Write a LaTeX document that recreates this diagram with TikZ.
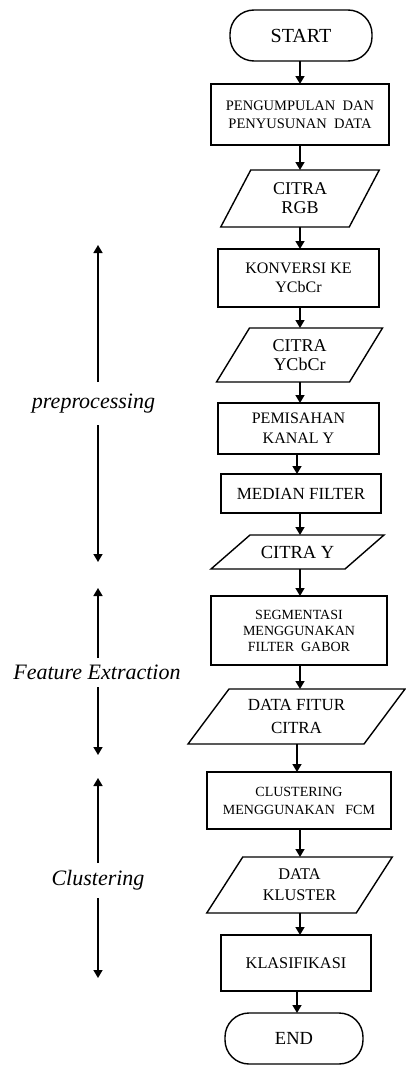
\documentclass[tikz,border=0pt]{standalone}
\usepackage{fontspec}
\setmainfont{Liberation Serif}
\usetikzlibrary{arrows.meta}
\newcommand\fs[2]{\fontsize{#1}{#2}\selectfont}
\newcommand\iobox[8]{% name, x, y, w, h, halfskew, font, text
  \node[iotext, font=#7, minimum width=#4pt, minimum height=#5pt] (#1) at (#2,#3) {#8};
  \draw[parashape] ([xshift=#6pt]#1.north west) -- ([xshift=#6pt]#1.north east)
    -- ([xshift=-#6pt]#1.south east) -- ([xshift=-#6pt]#1.south west) -- cycle;
}
\begin{document}
\begin{tikzpicture}[x=1pt,y=-1pt,
  procbox/.style={draw, line width=1.5pt, rectangle, inner sep=1pt, outer sep=0pt, align=center},
  termbox/.style={draw, line width=1.4pt, rectangle, rounded corners=24pt, inner sep=1pt, outer sep=0pt, font=\fs{20}{22}},
  iotext/.style={rectangle, inner sep=1pt, outer sep=0pt, align=center},
  parashape/.style={line width=1.4pt, line join=miter},
  flowarrow/.style={line width=1.5pt, -{Triangle[length=8pt,width=9pt]}},
  phase/.style={font=\fs{22}{24}\itshape, inner sep=0pt, outer sep=0pt},
]
\useasboundingbox (0,0) rectangle (405,1065);

% main column
\node[termbox, minimum width=142pt, minimum height=51pt] (start) at (301,35.5) {START};
\node[procbox, font=\fs{14.5}{18}, minimum width=178pt, minimum height=61pt] (collect) at (300,114.5)
  {PENGUMPULAN\ \ DAN\\PENYUSUNAN\ \ DATA};
\iobox{rgb}{300}{198.5}{128.5}{57}{15}{\fs{18}{19}}{CITRA\\RGB}
\node[procbox, font=\fs{16}{19}, minimum width=161pt, minimum height=58pt] (konv) at (298.5,278)
  {KONVERSI KE\\YCbCr};
\iobox{ycbcr}{299.5}{355}{133}{54}{16.5}{\fs{18}{19}}{CITRA\\YCbCr}
\node[procbox, font=\fs{16}{20}, minimum width=161pt, minimum height=51pt] (pemisah) at (298.5,428.5)
  {PEMISAHAN\\KANAL Y};
\node[procbox, font=\fs{17}{18}, minimum width=160pt, minimum height=39pt] (median) at (301,493.5)
  {MEDIAN FILTER};
\iobox{citray}{297.5}{552}{134}{34}{19.5}{\fs{18.5}{19}}{CITRA Y}
\node[procbox, font=\fs{14}{16}, minimum width=176pt, minimum height=69pt] (segm) at (299,630.5)
  {SEGMENTASI\\MENGGUNAKAN\\FILTER\ \ GABOR};
\iobox{fitur}{296.5}{716.5}{176}{55}{20.5}{\fs{17}{23}}{DATA FITUR\\CITRA}
\node[procbox, font=\fs{14}{18}, minimum width=184pt, minimum height=57pt] (clust) at (299,800.5)
  {CLUSTERING\\MENGGUNAKAN\ \ \ FCM};
\iobox{kluster}{299.5}{885}{149.5}{56}{18}{\fs{16.3}{21}}{DATA\\KLUSTER}
\node[procbox, font=\fs{16.3}{18}, minimum width=150pt, minimum height=56pt] (klas) at (296,963)
  {KLASIFIKASI};
\node[termbox, font=\fs{18.5}{20}, minimum width=138pt, minimum height=51pt] (end) at (294,1038.5) {END};

\coordinate (ax) at (300,0);
\coordinate (axb) at (297,0);
\draw[flowarrow] (start.south -| ax) -- (collect.north -| ax);
\draw[flowarrow] (collect.south -| ax) -- (rgb.north -| ax);
\draw[flowarrow] (rgb.south -| ax) -- (konv.north -| ax);
\draw[flowarrow] (konv.south -| ax) -- (ycbcr.north -| ax);
\draw[flowarrow] (ycbcr.south -| ax) -- (pemisah.north -| ax);
\draw[flowarrow] (pemisah.south -| axb) -- (median.north -| axb);
\draw[flowarrow] (median.south -| ax) -- (citray.north -| ax);
\draw[flowarrow] (citray.south -| ax) -- (segm.north -| ax);
\draw[flowarrow] (segm.south -| ax) -- (fitur.north -| ax);
\draw[flowarrow] (fitur.south -| axb) -- (clust.north -| axb);
\draw[flowarrow] (clust.south -| ax) -- (kluster.north -| ax);
\draw[flowarrow] (kluster.south -| ax) -- (klas.north -| ax);
\draw[flowarrow] (klas.south -| axb) -- (end.north -| axb);

% phase labels
\coordinate (lx) at (98,0);
\node[phase, minimum height=43pt] (pre) at (93.5,403.5) {preprocessing};
\coordinate (preTop) at (98,245);
\coordinate (preBot) at (98,562);
\draw[flowarrow] (pre.north -| lx) -- (preTop);
\draw[flowarrow] (pre.south -| lx) -- (preBot);

\node[phase, minimum height=29pt] (feat) at (97,672.5) {Feature Extraction};
\coordinate (featTop) at (98,588);
\coordinate (featBot) at (98,755);
\draw[flowarrow] (feat.north -| lx) -- (featTop);
\draw[flowarrow] (feat.south -| lx) -- (featBot);

\node[phase, minimum height=35pt] (clu) at (98,880.5) {Clustering};
\coordinate (cluTop) at (98,778);
\coordinate (cluBot) at (98,978);
\draw[flowarrow] (clu.north -| lx) -- (cluTop);
\draw[flowarrow] (clu.south -| lx) -- (cluBot);
\end{tikzpicture}
\end{document}
